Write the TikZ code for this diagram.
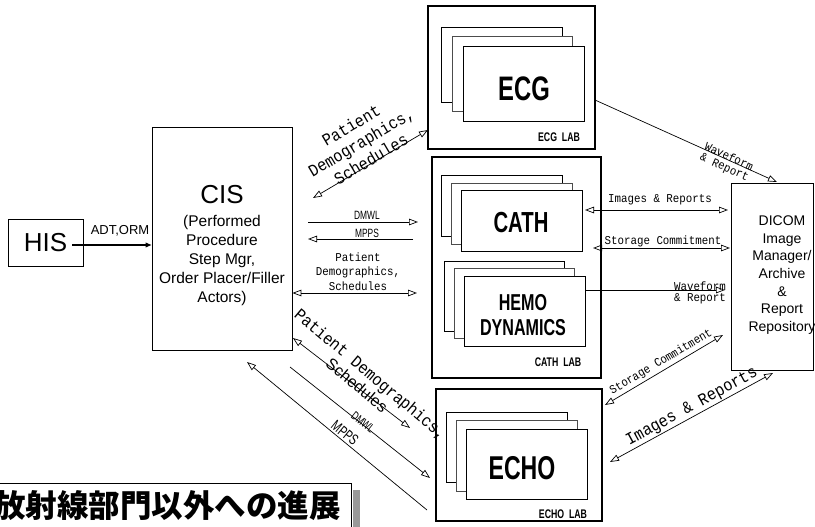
\documentclass[tikz,border=0pt]{standalone}
\usepackage{fontspec}
\setmainfont{Liberation Sans}
\newfontfamily\monof[FakeStretch=0.9]{Liberation Mono}
\newfontfamily\condf[FakeStretch=0.7]{Liberation Sans}
\newfontfamily\cjkf{Noto Sans CJK JP}
\usetikzlibrary{arrows.meta}
\newcommand\setfs[2]{\fontsize{#1}{#2}\selectfont}
\tikzset{
  >={Triangle[open,length=9pt,width=6.5pt]},
  labbox/.style={draw, line width=1.5pt},
  card/.style={draw, fill=white, line width=0.8pt},
  cardm/.style={draw=black!70, fill=white, line width=0.9pt},
  plainbox/.style={draw, line width=0.8pt},
  conn/.style={line width=0.7pt},
  mono/.style={font=\monof\setfs{12}{14.5}, inner sep=0pt, align=center},
  monobig/.style={font=\monof\setfs{17}{19.5}, inner sep=0pt, align=center},
  cond/.style={font=\condf\setfs{12}{14}, inner sep=0pt},
  labname/.style={font=\condf\bfseries\setfs{12.5}{14}, inner sep=0pt},
  bigname/.style={font=\condf\bfseries, inner sep=0pt, align=center},
}
\begin{document}
\begin{tikzpicture}[x=1pt,y=-1pt]
\useasboundingbox (0,0) rectangle (815,527);

% ---------- HIS ----------
\node (his) [plainbox, minimum width=75pt, minimum height=47pt, font=\setfs{26}{30}, inner sep=0pt] at (45.5,242.5) {HIS};
\coordinate (hisout) at (72,245);

% ---------- CIS ----------
\node (cis) [plainbox, minimum width=140pt, minimum height=223pt] at (222,238.5) {};
\node (cisname) [font=\setfs{26}{30}, inner sep=0pt] at (222,195) {CIS};
\node (cisdesc) [font=\setfs{15.5}{19}, align=center, inner sep=0pt] at (222,260.5)
  {(Performed\\Procedure\\Step Mgr,\\Order Placer/Filler\\Actors)};

\draw[line width=1.6pt, -{Triangle[length=6pt,width=4.5pt]}] (hisout) -- (hisout -| cis.west);
\node (adt) [font=\setfs{13}{15}, inner sep=0pt] at (120,231) {ADT,ORM};

% ---------- ECG LAB ----------
\node (ecglab) [labbox, minimum width=167pt, minimum height=143pt] at (511.5,77.5) {};
\draw[card] (441,27) rectangle (562,102);
\draw[cardm] (452,36) rectangle (572,111);
\node (ecgcard) [card, minimum width=121pt, minimum height=75pt] at (523.5,83.5) {};
\node (ecg) [bigname, font=\condf\bfseries\setfs{34}{36}] at (524,89) {ECG};
\node (ecglbl) [labname] at (559,137) {ECG\ \ LAB};

% ---------- CATH LAB ----------
\node (cathlab) [labbox, minimum width=169pt, minimum height=221pt] at (516.5,267.5) {};
\draw[card] (441,175) rectangle (562,236);
\draw[cardm] (451,183) rectangle (572,244);
\node (cathcard) [card, minimum width=121pt, minimum height=61pt] at (521.5,220.5) {};
\node (cath) [bigname, font=\condf\bfseries\setfs{29}{30}] at (521,223) {CATH};
\draw[card] (444,261) rectangle (564,331);
\draw[cardm] (454,268) rectangle (574,338);
\node (hemocard) [card, minimum width=121pt, minimum height=70pt] at (524.5,311) {};
\node (hemo) [bigname, font=\condf\bfseries\setfs{23}{25}] at (523,315.5) {HEMO\\DYNAMICS};
\node (cathlbl) [labname] at (558,362) {CATH\ \ LAB};

% ---------- ECHO LAB ----------
\node (echolab) [labbox, minimum width=166pt, minimum height=132pt] at (519,455) {};
\draw[card] (446,412) rectangle (567,482);
\draw[cardm] (456,420) rectangle (577,491);
\node (echocard) [card, minimum width=121pt, minimum height=70pt] at (526.5,464) {};
\node (echo) [bigname, font=\condf\bfseries\setfs{33}{34}] at (522,468) {ECHO};
\node (echolbl) [labname] at (563,514) {ECHO\ \ LAB};

% ---------- DICOM ----------
\node (dicom) [plainbox, minimum width=82pt, minimum height=187pt] at (772,276.5) {};
\node (dicomtxt) [font=\setfs{14}{17.7}, align=center, inner sep=0pt] at (782,275)
  {DICOM\\Image\\Manager/\\Archive\\\&\\Report\\Repository};

% ---------- connectors ----------
% CIS <-> ECG
\coordinate (c1a) at (313,198);
\coordinate (c1b) at (428,130);
\draw[conn, <->] (c1a) -- (c1b);
\node (l1) [monobig, rotate=30.6] at (361,142) {Patient\\Demographics,\\Schedules};

% DMWL / MPPS horizontal
\coordinate (dmwla) at (308,222);
\coordinate (dmwlb) at (418,222);
\draw[conn, ->] (dmwla) -- (dmwlb);
\node (l2) [cond] at (367,215) {DMWL};
\coordinate (mppsa) at (413,239);
\coordinate (mppsb) at (308,239);
\draw[conn, ->] (mppsa) -- (mppsb);
\node (l3) [cond] at (367,233) {MPPS};

% Patient demographics horizontal
\coordinate (c4b) at (417,293);
\draw[conn, <->] (c4b -| cis.east) -- (c4b);
\node (l4) [mono] at (358,271.5) {Patient\\Demographics,\\Schedules};

% CATH <-> DICOM images
\coordinate (c5a) at (585,210);
\coordinate (c5b) at (728,210);
\draw[conn, <->] (c5a) -- (c5b);
\node (l5) [mono] at (660,200) {Images \& Reports};

% CATH <-> DICOM storage
\coordinate (c6a) at (593,248);
\coordinate (c6b) at (730,248);
\draw[conn, <->] (c6a) -- (c6b);
\node (l6) [mono] at (663,241) {Storage Commitment};

% HEMO -> DICOM waveform
\coordinate (c7b) at (725,290);
\draw[conn, ->] (c7b -| hemocard.east) -- (c7b);
\node (l7) [mono, font=\monof\setfs{12}{11}] at (700,292.5) {Waveform\\\& Report};

% ECG -> DICOM waveform
\coordinate (c8a) at (595,100);
\coordinate (c8b) at (777,182);
\draw[conn, ->] (c8a) -- (c8b);
\node (l8) [mono, font=\monof\setfs{12}{11}, rotate=-24.3] at (726.5,162.5) {Waveform\\\& Report};

% ECHO <-> DICOM storage
\coordinate (c9a) at (605,405);
\coordinate (c9b) at (723,335);
\draw[conn, <->] (c9a) -- (c9b);
\node (l9) [mono, rotate=30.7] at (661,362) {Storage Commitment};

% ECHO <-> DICOM images
\coordinate (c10a) at (610,462);
\coordinate (c10b) at (773,373);
\draw[conn, <->] (c10a) -- (c10b);
\node (l10) [monobig, rotate=28.6] at (692,407) {Images \& Reports};

% CIS <-> ECHO patient demographics
\coordinate (c11a) at (293,338);
\coordinate (c11b) at (410,428);
\draw[conn, <->] (c11a) -- (c11b);
\node (l11) [monobig, rotate=-40] at (370,375) {Patient Demographics,};
\node (l11b) [font=\setfs{16}{18}, inner sep=0pt, rotate=-40] at (357,385) {Schedules};

% DMWL diagonal
\coordinate (c12a) at (290,367);
\coordinate (c12b) at (430,478);
\draw[conn, ->] (c12a) -- (c12b);
\node (l12) [cond, rotate=-38.4] at (363,422) {DMWL};

% MPPS diagonal
\coordinate (c13a) at (427,510);
\coordinate (c13b) at (247,362);
\draw[conn, ->] (c13a) -- (c13b);
\node (l13) [cond, font=\condf\setfs{15}{17}, rotate=-39.4] at (345,433) {MPPS};

% ---------- title ----------
\fill[black!40] (353,490) rectangle (360,530);
\node (titlebox) [draw, line width=0.8pt, fill=white, minimum width=362pt, minimum height=60pt, anchor=north east, inner sep=0pt] at (352,482.5) {};
\node (title) [font=\cjkf\bfseries\setfs{31.5}{34}, anchor=east, inner sep=0pt] at (341,506) {放射線部門以外への進展};
\end{tikzpicture}
\end{document}
